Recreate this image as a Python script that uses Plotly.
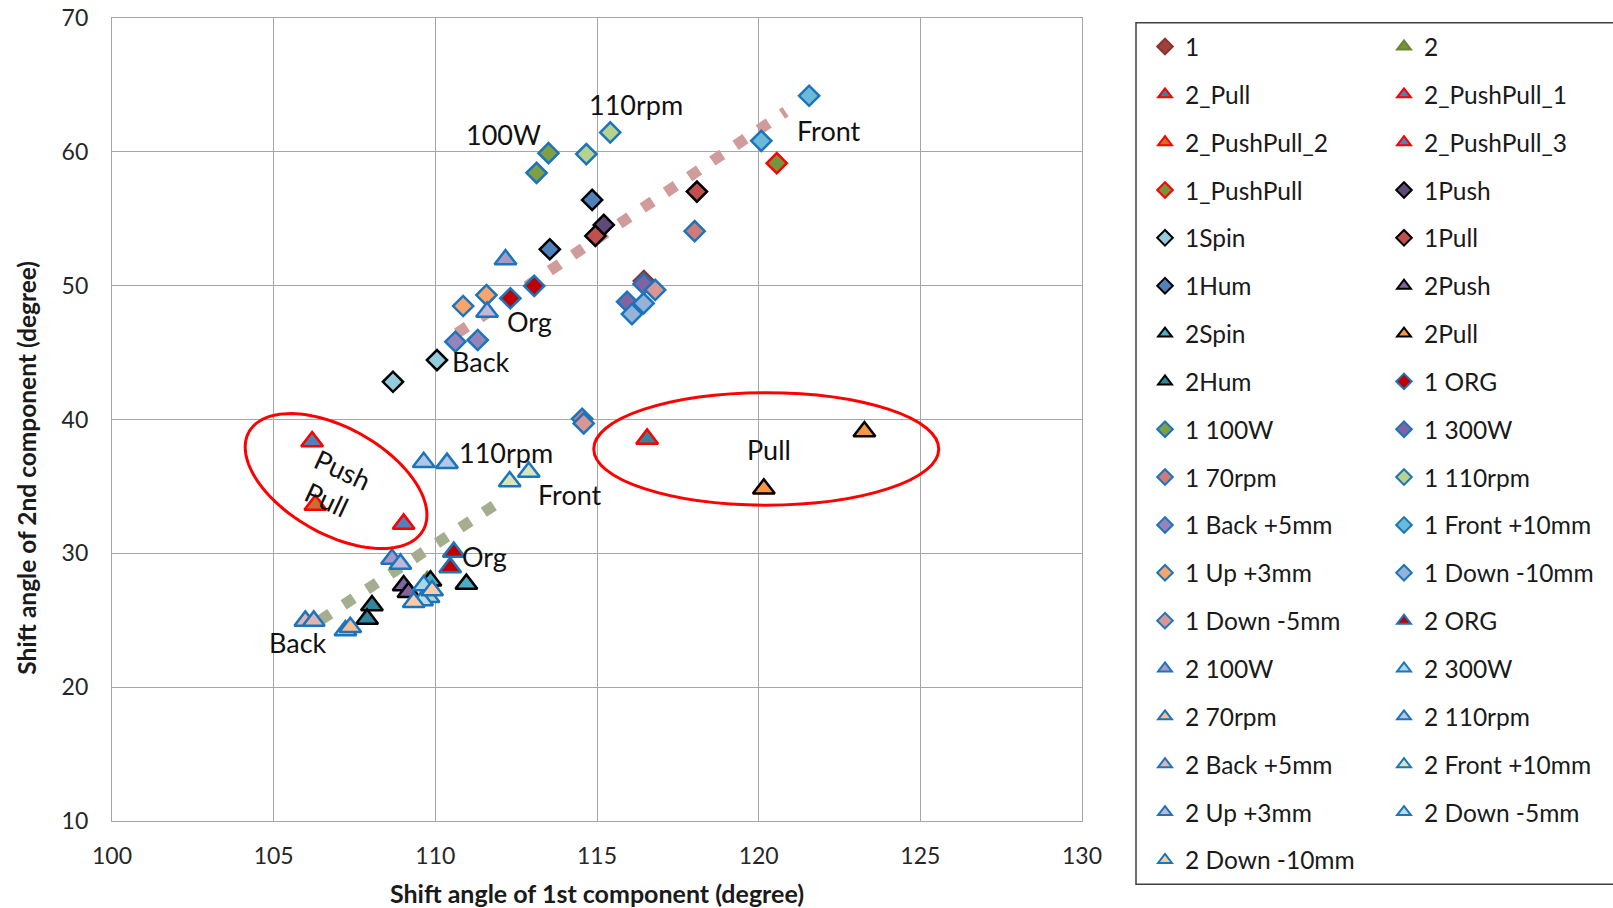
import numpy as np
import plotly.graph_objects as go

# ---------------- data ----------------
series_names = [
    "1", "2", "2_Pull", "2_PushPull_1", "2_PushPull_2", "2_PushPull_3",
    "1_PushPull", "1Push", "1Spin", "1Pull", "1Hum", "2Push", "2Spin", "2Pull", "2Hum",
    "1 ORG", "1 100W", "1 300W", "1 70rpm", "1 110rpm", "1 Back +5mm", "1 Front +10mm",
    "1 Up +3mm", "1 Down -10mm", "1 Down -5mm",
    "2 ORG", "2 100W", "2 300W", "2 70rpm", "2 110rpm", "2 Back +5mm", "2 Front +10mm",
    "2 Up +3mm", "2 Down -5mm", "2 Down -10mm",
]
series_x = [
    [116.45], [109.75], [116.55], [106.19], [106.29], [109.02],
    [120.56], [115.21], [108.69, 110.05], [114.95, 118.09], [114.85, 113.54],
    [109.02, 109.17], [110.96, 109.85], [123.27, 120.16], [108.04, 107.89],
    [112.32, 113.06], [113.13, 113.5], [116.44, 115.93], [118.02, 114.54], [114.67, 115.41],
    [110.62, 111.31], [120.08, 121.56], [110.86, 111.58], [116.44, 116.08], [116.8, 114.59],
    [110.57, 110.46], [112.17, 108.66], [109.64, 109.79], [107.22, 107.37], [109.64, 110.36],
    [105.98, 106.24], [112.3, 112.89], [111.6, 108.92], [109.59], [109.33, 109.9],
]
series_y = [
    [50.35], [27.9], [38.55], [38.35], [33.62], [32.2],
    [59.15], [54.54], [42.82, 44.44], [53.72, 57.03], [56.41, 52.72],
    [27.6, 27.1], [27.7, 27.95], [39.1, 34.82], [26.1, 25.1],
    [49.06, 49.98], [58.43, 59.9], [50.13, 48.8], [54.07, 40.05], [59.83, 61.45],
    [45.81, 45.94], [60.82, 64.19], [48.48, 49.3], [48.68, 47.88], [49.68, 39.71],
    [30.1, 28.95], [51.95, 29.58], [27.6, 26.72], [24.23, 24.47], [36.81, 36.74],
    [24.95, 24.95], [35.37, 36.07], [48.03, 29.21], [26.47], [26.34, 27.22],
]
trend1_x = [110.67, 120.83]
trend1_y = [46.44, 63.0]
trend2_x = [106.44, 112.22]
trend2_y = [25.0, 34.22]

x_ticks = [100, 105, 110, 115, 120, 125, 130]
y_ticks = [10, 20, 30, 40, 50, 60, 70]

x_title = "<b>Shift angle of 1st component (degree)</b>"
y_title = "<b>Shift angle of 2nd component (degree)</b>"

# ---------------- styles ----------------
RED = "#FF0000"; BLK = "#000000"; BLU = "#1B75BC"
series_symbol = [
    "diamond", "triangle-up", "triangle-up", "triangle-up", "triangle-up", "triangle-up",
    "diamond", "diamond", "diamond", "diamond", "diamond",
    "triangle-up", "triangle-up", "triangle-up", "triangle-up",
    "diamond", "diamond", "diamond", "diamond", "diamond", "diamond", "diamond",
    "diamond", "diamond", "diamond",
    "triangle-up", "triangle-up", "triangle-up", "triangle-up", "triangle-up", "triangle-up",
    "triangle-up", "triangle-up", "triangle-up", "triangle-up",
]
series_fill = [
    "#A0403D", "#77933C", "#31859C", "#4F81BD", "#C8702E", "#4F81BD",
    "#77933C", "#604A7B", "#93CDDD", "#C0504D", "#4F81BD",
    "#8064A2", "#4BACC6", "#F79646", "#31859C",
    "#C00000", "#7F9F45", "#8064A2", "#CF7B79", "#B8D18C", "#9683BA", "#6BBBD8",
    "#F9A46B", "#95B3D7", "#D99694",
    "#C00000", "#A898C8", "#A6D8E8", "#F9BD93", "#B3C7E3", "#E0B4B2", "#D7E4BD",
    "#C3B6D6", "#B7DEE8", "#FCCBA8",
]
series_line = (
    ["#8B3331", "#6A8535", RED, RED, RED, RED, RED]
    + [BLK] * 8
    + [BLU] * 20
)

FONT = "Lato, 'Open Sans', sans-serif"

L, R, T, B = 112, 531, 18, 87
W, H = 1613, 908
PW, PH = W - L - R, H - T - B
ppx = PW / (x_ticks[-1] - x_ticks[0])
ppy = PH / (y_ticks[-1] - y_ticks[0])

fig = go.Figure()

# trendlines
for tx, ty, col in [(trend1_x, trend1_y, "#CF9C9B"), (trend2_x, trend2_y, "#A4AD8D")]:
    fig.add_trace(go.Scatter(x=tx, y=ty, mode="lines", showlegend=False, hoverinfo="skip",
                             line=dict(color=col, width=11, dash="12px,16px")))

for i, name in enumerate(series_names):
    sym = series_symbol[i]
    size = 15.5 if sym == "diamond" else 19
    fig.add_trace(go.Scatter(
        x=series_x[i], y=series_y[i], mode="markers", name=name,
        legend="legend" if i % 2 == 0 else "legend2",
        legendgroup=name,
        marker=dict(symbol=sym, size=size, color=series_fill[i],
                    line=dict(color=series_line[i], width=2.5)),
    ))

# ellipses
def ellipse_path(cx, cy, a_px, b_px, ang_deg, n=120):
    t = np.linspace(0, 2 * np.pi, n)
    th = np.radians(ang_deg)
    dx = a_px * np.cos(t) * np.cos(th) - b_px * np.sin(t) * np.sin(th)
    dy = a_px * np.cos(t) * np.sin(th) + b_px * np.sin(t) * np.cos(th)
    xs = cx + dx / ppx
    ys = cy - dy / ppy
    return "M " + " L ".join(f"{a:.4f},{b:.4f}" for a, b in zip(xs, ys)) + " Z"

fig.add_shape(type="path", xref="x", yref="y",
              path=ellipse_path(106.93, 35.4, 100, 53, 29.5),
              line=dict(color="#FF0000", width=3))
fig.add_shape(type="circle", xref="x", yref="y", x0=114.9, x1=125.57, y0=33.6, y1=42.0,
              line=dict(color="#FF0000", width=3))

# legend box
fig.add_shape(type="rect", xref="paper", yref="paper",
              x0=(1136 - L) / PW, x1=1.6,
              y0=(H - B - 884.3) / PH, y1=(H - B - 22.7) / PH,
              line=dict(color="#404040", width=1.5), fillcolor="rgba(0,0,0,0)")

# labels
labels = [
    ("100W", 112.1, 61.29, 0), ("110rpm", 116.2, 63.5, 0), ("Front", 122.16, 61.6, 0),
    ("Org", 112.9, 47.3, 0), ("Back", 111.4, 44.37, 0), ("110rpm", 112.17, 37.52, 0),
    ("Front", 114.18, 34.36, 0), ("Org", 111.53, 29.75, 0), ("Back", 105.74, 23.35, 0),
    ("Pull", 120.31, 37.75, 0), ("Push", 107.14, 36.29, 25), ("Pull", 106.66, 34.05, 25),
]
for txt, lx, ly, ang in labels:
    fig.add_annotation(x=lx, y=ly, text=txt, showarrow=False, textangle=ang,
                       font=dict(family=FONT, size=27, color="#111111"),
                       xanchor="center", yanchor="middle")

# y axis title (offset downward like the original)
fig.add_annotation(xref="paper", yref="paper", x=(25.7 - L) / PW, y=(H - B - 468) / PH,
                   text=y_title, textangle=-90, showarrow=False,
                   xanchor="center", yanchor="middle",
                   font=dict(family=FONT, size=24.5, color="#1a1a1a"))

axis_common = dict(showgrid=True, gridcolor="#A6A6A6", gridwidth=1.3, zeroline=False,
                   showline=True, linecolor="#A6A6A6", linewidth=1.3, mirror=True,
                   ticks="", tickfont=dict(family=FONT, size=23, color="#262626"))

leg_common = dict(xanchor="left", yanchor="top", orientation="v",
                  traceorder="grouped", tracegroupgap=13, itemsizing="constant",
                  bgcolor="rgba(0,0,0,0)", borderwidth=0, maxheight=1000,
                  font=dict(family=FONT, size=24.5, color="#1a1a1a"))
leg_y = (H - B - 24) / PH

fig.update_layout(
    width=W, height=H,
    margin=dict(l=L, r=R, t=T, b=B, autoexpand=False),
    paper_bgcolor="white", plot_bgcolor="white",
    xaxis=dict(range=[x_ticks[0], x_ticks[-1]], tickvals=x_ticks, ticklabelstandoff=14,
               title=dict(text=x_title, standoff=18,
                          font=dict(family=FONT, size=25, color="#1a1a1a")),
               **axis_common),
    yaxis=dict(range=[y_ticks[0], y_ticks[-1]], tickvals=y_ticks, ticklabelstandoff=18,
               **axis_common),
    legend=dict(x=(1145 - L) / PW, y=leg_y, **leg_common),
    legend2=dict(x=(1384 - L) / PW, y=leg_y, **leg_common),
    showlegend=True,
)

fig.write_html("out.html")
